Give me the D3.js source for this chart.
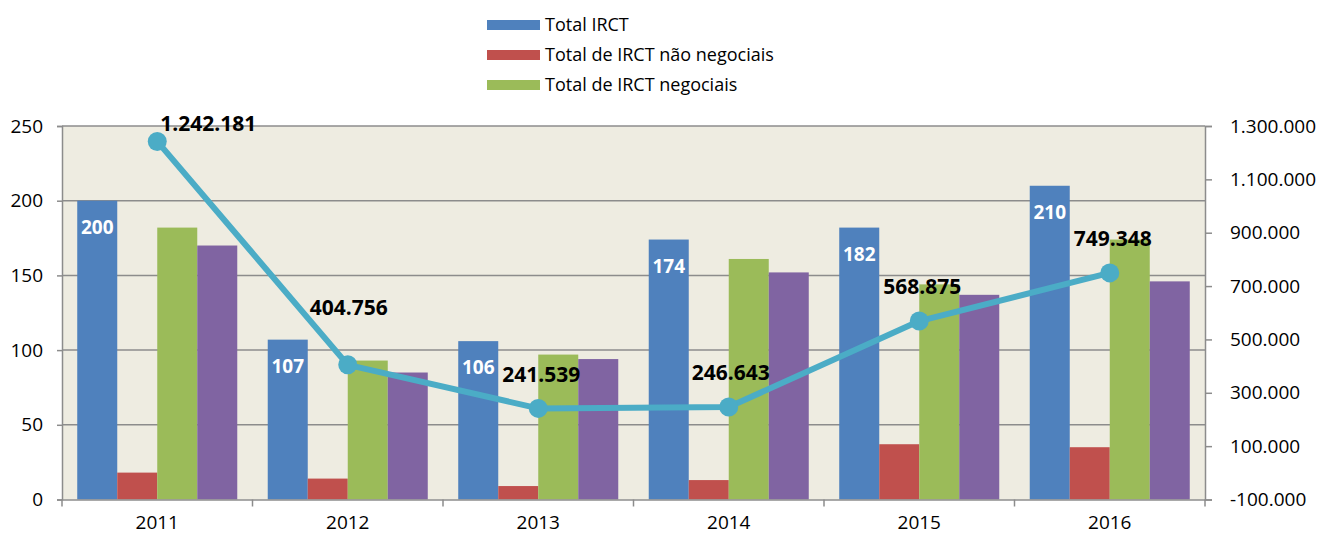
<!DOCTYPE html>
<html>
<head>
<meta charset="utf-8">
<script src="https://cdn.jsdelivr.net/npm/d3@7"></script>
<style>
  body { margin: 0; background: #fff; }
  text { font-family: "Open Sans", sans-serif; }
</style>
</head>
<body>
<div id="chart"></div>
<script>
// data
const years = ['2011', '2012', '2013', '2014', '2015', '2016'];
const totalIRCT = [200, 107, 106, 174, 182, 210];
const naoNegociais = [18, 14, 9, 13, 37, 35];
const negociais = [182, 93, 97, 161, 144, 174];
const quartaSerie = [170, 85, 94, 152, 137, 146];
const lineValues = [1242181, 404756, 241539, 246643, 568875, 749348];
const leftTicks = [0, 50, 100, 150, 200, 250];
const rightTicks = [-100000, 100000, 300000, 500000, 700000, 900000, 1100000, 1300000];

// label nudges for the line values (manual placement in the original)
const lineLabelDx = [51, 1, 3, 2, 3, 3];
const lineLabelDy = [-10, -50, -26, -27, -27, -27];

const W = 1317, H = 540;
const plotLeft = 62, plotRight = 1205, plotTop = 126, plotBottom = 499.5;

const svg = d3.select('#chart').append('svg')
    .attr('width', W)
    .attr('height', H);

const fmt = d3.formatLocale({decimal: ',', thousands: '.', grouping: [3], currency: ['', ''], minus: '-'}).format(',d');

const x = d3.scaleBand().domain(years).range([plotLeft, plotRight]).padding(0);
const keys = ['total', 'nao', 'neg', 'quarta'];
const xs = d3.scaleBand().domain(keys)
    .range([x.bandwidth() * 0.08, x.bandwidth() * 0.92]);
const yL = d3.scaleLinear().domain([0, 250]).range([plotBottom, plotTop]);
const yR = d3.scaleLinear().domain([-100000, 1300000]).range([plotBottom, plotTop]);

const colors = {total: '#4F81BD', nao: '#C0504D', neg: '#9BBB59', quarta: '#8064A2'};
const seriesData = {total: totalIRCT, nao: naoNegociais, neg: negociais, quarta: quartaSerie};

// plot background
svg.append('rect')
    .attr('x', plotLeft).attr('y', plotTop)
    .attr('width', plotRight - plotLeft).attr('height', plotBottom - plotTop)
    .attr('fill', '#EEECE1');

// gridlines
svg.append('g').selectAll('line')
    .data(leftTicks.filter(d => d > 0))
    .enter().append('line')
    .attr('x1', plotLeft).attr('x2', plotRight)
    .attr('y1', d => yL(d)).attr('y2', d => yL(d))
    .attr('stroke', '#8C8C8C').attr('stroke-width', 1.5);

// bars
const rows = years.map((yr, i) => ({yr, i}));
keys.forEach(k => {
    svg.append('g').selectAll('rect')
        .data(rows)
        .enter().append('rect')
        .attr('x', d => x(d.yr) + xs(k))
        .attr('width', xs.bandwidth())
        .attr('y', d => yL(seriesData[k][d.i]))
        .attr('height', d => plotBottom - yL(seriesData[k][d.i]))
        .attr('fill', colors[k]);
});

// white labels inside blue bars
svg.append('g').selectAll('text')
    .data(rows)
    .enter().append('text')
    .attr('x', d => x(d.yr) + xs('total') + xs.bandwidth() / 2)
    .attr('y', d => yL(totalIRCT[d.i]) + 33)
    .attr('text-anchor', 'middle')
    .attr('font-size', 19)
    .attr('font-weight', 'bold')
    .attr('fill', '#fff')
    .text(d => totalIRCT[d.i]);

// left axis
const axL = svg.append('g')
    .attr('transform', `translate(${plotLeft},0)`)
    .call(d3.axisLeft(yL).tickValues(leftTicks).tickSize(5).tickPadding(14).tickFormat(d3.format('d')));
axL.select('.domain').attr('stroke', '#8C8C8C').attr('stroke-width', 1.5);
axL.selectAll('.tick line').attr('stroke', '#8C8C8C').attr('stroke-width', 1.5);
axL.selectAll('.tick text').attr('font-size', 19).attr('fill', '#000')
    .attr('font-family', '"Open Sans", sans-serif');

// right axis
const axR = svg.append('g')
    .attr('transform', `translate(${plotRight},0)`)
    .call(d3.axisRight(yR).tickValues(rightTicks).tickSize(7).tickPadding(18).tickFormat(fmt));
axR.select('.domain').attr('stroke', '#8C8C8C').attr('stroke-width', 1.5);
axR.selectAll('.tick line').attr('stroke', '#8C8C8C').attr('stroke-width', 1.5);
axR.selectAll('.tick text').attr('font-size', 19).attr('fill', '#000')
    .attr('font-family', '"Open Sans", sans-serif');

// bottom axis: category labels centred, ticks at band edges
const axB = svg.append('g')
    .attr('transform', `translate(0,${plotBottom})`)
    .call(d3.axisBottom(x).tickSize(0).tickPadding(16));
axB.select('.domain').attr('stroke', '#8C8C8C').attr('stroke-width', 1.5);
axB.selectAll('.tick text').attr('font-size', 19).attr('fill', '#000')
    .attr('font-family', '"Open Sans", sans-serif');
svg.append('g').selectAll('line')
    .data(years.map(d => x(d)).concat([plotRight]))
    .enter().append('line')
    .attr('x1', d => d).attr('x2', d => d)
    .attr('y1', plotBottom).attr('y2', plotBottom + 7)
    .attr('stroke', '#8C8C8C').attr('stroke-width', 1.5);

// line series on the right axis
const cx = (d, i) => x(years[i]) + x.bandwidth() / 2;
const line = d3.line()
    .x((d, i) => cx(d, i))
    .y(d => yR(d));
svg.append('path')
    .datum(lineValues)
    .attr('d', line)
    .attr('fill', 'none')
    .attr('stroke', '#4BACC6')
    .attr('stroke-width', 6)
    .attr('stroke-linejoin', 'round');
svg.append('g').selectAll('circle')
    .data(lineValues)
    .enter().append('circle')
    .attr('cx', (d, i) => cx(d, i))
    .attr('cy', d => yR(d))
    .attr('r', 9.5)
    .attr('fill', '#4BACC6');
svg.append('g').selectAll('text')
    .data(lineValues)
    .enter().append('text')
    .attr('x', (d, i) => cx(d, i) + lineLabelDx[i])
    .attr('y', (d, i) => yR(d) + lineLabelDy[i])
    .attr('text-anchor', 'middle')
    .attr('font-size', 21)
    .attr('font-weight', 'bold')
    .attr('fill', '#000')
    .text(d => fmt(d));

// legend
const legendItems = [
    {label: 'Total IRCT', color: colors.total},
    {label: 'Total de IRCT não negociais', color: colors.nao},
    {label: 'Total de IRCT negociais', color: colors.neg}
];
const lg = svg.append('g').selectAll('g')
    .data(legendItems)
    .enter().append('g')
    .attr('transform', (d, i) => `translate(487,${25 + i * 30})`);
lg.append('rect')
    .attr('x', 0).attr('y', -5)
    .attr('width', 53).attr('height', 10)
    .attr('fill', d => d.color);
lg.append('text')
    .attr('x', 58).attr('y', 0)
    .attr('dy', '0.35em')
    .attr('font-size', 18)
    .attr('fill', '#000')
    .text(d => d.label);
</script>
</body>
</html>
